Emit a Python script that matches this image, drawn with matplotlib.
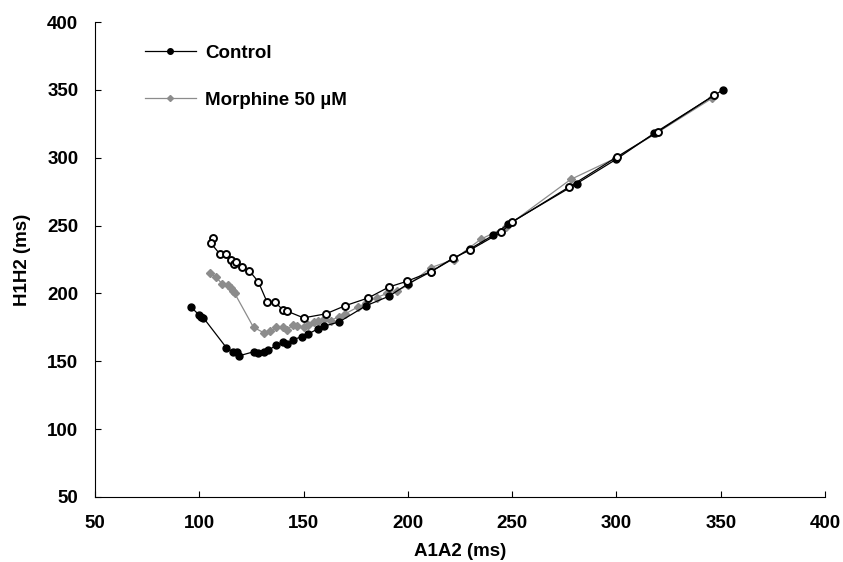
import matplotlib
matplotlib.use("Agg")
import matplotlib.pyplot as plt

plt.rcParams['font.family'] = ['Liberation Sans', 'DejaVu Sans']
plt.rcParams['font.weight'] = 'bold'

# Control (filled circles)
ctrl_x = [96, 100, 101, 102, 113, 116, 118, 119, 126, 128, 131, 133, 137, 140, 142,
          145, 149, 152, 157, 160, 167, 180, 191, 200, 211, 230, 241, 248, 281, 300, 318, 351]
ctrl_y = [190, 184, 183, 182, 160, 157, 157, 154, 157, 156, 157, 158, 162, 164, 163,
          166, 168, 170, 174, 176, 179, 191, 198, 207, 216, 233, 243, 251, 281, 299, 318, 350]

# Morphine 50 uM (gray diamonds)
morph_x = [105, 108, 111, 114, 115, 116, 117, 126, 131, 134, 137, 140, 142, 145, 147,
           150, 152, 155, 157, 160, 163, 167, 170, 176, 180, 185, 190, 195, 200, 211,
           222, 235, 247, 278, 300, 319, 346]
morph_y = [215, 212, 207, 206, 204, 202, 200, 175, 171, 172, 175, 175, 173, 177, 176,
           175, 177, 179, 180, 181, 180, 183, 185, 190, 193, 197, 200, 202, 206, 219,
           225, 240, 249, 284, 300, 318, 344]

# third series (open circles, not in legend)
open_x = [106.7, 105.6, 109.9, 112.8, 115.1, 116.8, 117.6, 120.3, 124, 128.3, 132.5,
          136.3, 140, 142, 150, 160.7, 170, 181, 191, 199.6, 211, 221.6, 229.8, 244.6,
          250, 277.4, 300.4, 319.7, 346.9]
open_y = [240.6, 236.9, 229, 229, 225, 221.4, 223, 219.2, 216.7, 208.6, 193.6,
          193.6, 188, 187, 182, 185, 191, 196.7, 204.8, 209, 216, 226, 232, 245,
          252.6, 278.6, 300.8, 319, 346.2]

fig = plt.figure(figsize=(8.43, 5.62), dpi=100)
ax = fig.add_axes([0.1127, 0.1157, 0.866, 0.845])

ax.plot(ctrl_x, ctrl_y, color='black', lw=0.9, marker='o', ms=5,
        mfc='black', mec='black', label='Control', zorder=3)
ax.plot(morph_x, morph_y, color='#8c8c8c', lw=0.9, marker='D', ms=3.8,
        mfc='#8c8c8c', mec='#8c8c8c', label='Morphine 50 \u00b5M', zorder=2)
ax.plot(open_x, open_y, color='black', lw=0.9, marker='o', ms=5,
        mfc='white', mec='black', mew=1.4, zorder=4)

ax.set_xlim(50, 400)
ax.set_ylim(50, 400)
ax.set_xticks(range(50, 401, 50))
ax.set_yticks(range(50, 401, 50))
ax.spines['top'].set_visible(False)
ax.spines['right'].set_visible(False)
ax.tick_params(direction='in', length=4, labelsize=13.5)
ax.tick_params(axis='x', pad=13)
ax.tick_params(axis='y', pad=12)
for lab in ax.get_xticklabels() + ax.get_yticklabels():
    lab.set_fontweight('bold')

ax.set_xlabel('A1A2 (ms)', fontsize=13.5, fontweight='bold', labelpad=8)
ax.set_ylabel('H1H2 (ms)', fontsize=13.5, fontweight='bold', labelpad=12)

ax.legend(loc='upper left', bbox_to_anchor=(0.0685, 0.953), frameon=False,
          borderpad=0, borderaxespad=0,
          fontsize=13.5, handlelength=2.7, labelspacing=1.6, handletextpad=0.5,
          markerscale=0.8)

fig.savefig('out.png', dpi=100)
